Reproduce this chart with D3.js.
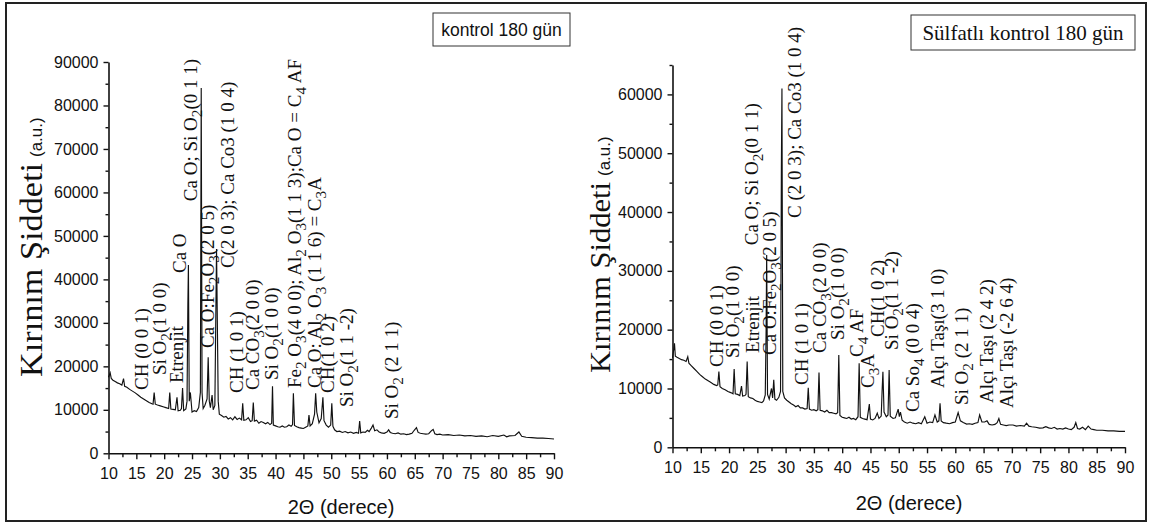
<!DOCTYPE html>
<html><head><meta charset="utf-8">
<script src="https://cdn.jsdelivr.net/npm/d3@7"></script>
<style>body{margin:0;background:#fff}</style>
</head><body>
<svg id="chart" width="1152" height="524" xmlns="http://www.w3.org/2000/svg"></svg>
<script>
// ---------- DATA ----------
const leftTheta = [10.0,10.3,10.5,10.8,11.2,11.6,12.0,12.4,12.7,12.9,13.3,13.8,14.3,14.8,15.3,15.8,16.3,16.8,17.3,17.8,18.0,18.2,18.4,18.8,19.3,19.8,20.3,20.8,21.0,21.2,21.6,22.0,22.3,22.5,22.9,23.1,23.3,23.5,23.9,24.1,24.25,24.35,24.5,24.7,25.0,25.4,25.8,26.2,26.5,26.65,26.8,27.0,27.3,27.7,27.9,28.1,28.3,28.6,28.8,29.1,29.4,29.7,29.9,30.3,30.7,31.1,31.5,31.9,32.3,32.7,33.1,33.5,33.9,34.1,34.3,34.7,35.1,35.5,35.8,36.0,36.2,36.6,37.0,37.4,37.8,38.2,38.6,39.0,39.3,39.45,39.6,40.0,40.4,40.8,41.2,41.6,42.0,42.4,42.8,43.05,43.2,43.4,43.8,44.2,44.6,45.0,45.4,45.8,46.0,46.2,46.6,47.0,47.2,47.4,47.8,48.2,48.5,48.7,49.1,49.5,49.9,50.1,50.3,50.6,51.0,51.5,52.0,52.5,53.0,53.5,54.0,54.5,54.9,55.1,55.3,55.7,56.1,56.5,56.8,57.2,57.5,57.8,58.2,58.6,59.0,59.5,60.0,60.3,60.6,61.0,61.5,62.0,62.5,63.0,63.5,64.0,64.5,64.9,65.3,65.6,66.0,66.5,67.0,67.5,68.0,68.3,68.6,69.0,69.5,70.0,71,72,73,74,75,76,77,78,79,80,81,81.5,82,83,83.7,84.2,85,86,87,88,89,90];
const leftIntensity = [17500,18500,17200,16800,16500,16200,16000,15700,17200,15400,15200,14700,14300,13900,13400,12900,12500,12100,11700,11400,11300,14000,11300,11100,10900,10700,10500,10300,14000,10200,10100,10000,12900,9800,9900,10300,15000,9800,10200,12000,34000,43300,12000,14000,9500,9800,9600,10500,14000,84000,14000,10300,11000,12500,22100,12000,10500,13400,10000,11000,47000,12000,9000,8700,8300,8500,7900,8200,7700,8400,7800,8100,7700,11500,7600,7700,8200,7300,7500,11700,7400,7600,6900,7300,7100,6800,7100,6600,6900,15400,6500,6300,6100,6000,6300,6000,6100,6500,6200,6600,13800,6400,6100,5900,5800,5700,6000,6300,8800,6300,6800,9000,13800,9500,7000,8000,12900,7500,6500,6000,6500,11500,6200,5400,5000,5100,4800,5000,4700,4900,4600,4800,4600,7400,4700,4900,4800,5300,5000,5800,6500,5200,5400,4900,4700,4600,4900,5400,4800,4600,4500,4700,4400,4500,4300,4400,4600,5300,5900,4800,4600,4500,4400,4500,5200,5500,4500,4300,4400,4200,4300,4100,4200,4000,4100,3900,4000,3800,4100,3900,4200,3800,4000,4100,4900,3900,3700,3600,3500,3500,3400,3300];

const rightTheta = [10.0,10.2,10.35,10.5,10.8,11.2,11.6,12.0,12.4,12.7,12.9,13.3,13.8,14.3,14.8,15.3,15.8,16.3,16.8,17.3,17.8,18.0,18.2,18.4,18.8,19.3,19.8,20.3,20.7,20.9,21.1,21.5,21.9,22.2,22.4,22.8,23.0,23.2,23.4,23.8,24.2,24.6,25.0,25.4,25.8,26.1,26.4,26.55,26.65,26.8,27.1,27.5,27.7,27.9,28.1,28.4,28.8,29.1,29.25,29.35,29.5,29.8,30.2,30.6,31.0,31.4,31.8,32.2,32.6,33.0,33.4,33.8,34.0,34.2,34.6,35.0,35.4,35.7,35.9,36.1,36.5,36.9,37.3,37.7,38.1,38.5,38.9,39.2,39.4,39.6,40.0,40.4,40.8,41.2,41.6,42.0,42.4,42.8,43.0,43.2,43.6,44.0,44.4,44.8,45.0,45.4,45.8,46.2,46.5,46.9,47.05,47.2,47.4,47.8,48.1,48.3,48.5,49.0,49.4,49.9,50.1,50.3,50.6,51.0,51.5,52.0,52.5,53.0,53.5,54.0,54.6,55.0,55.5,56.0,56.4,56.8,57.1,57.3,57.5,57.9,58.4,59.0,59.5,60.0,60.5,60.9,61.4,62.0,62.5,63.0,63.5,64.0,64.3,64.7,65.2,65.6,66.0,66.5,67.0,67.4,67.7,68.0,68.5,69.0,69.5,70.2,70.8,71.5,72.2,72.6,73.0,73.5,74.2,74.9,75.5,76.0,76.5,77.0,77.5,78.0,78.5,79.0,79.5,80.0,80.5,81.0,81.3,81.6,82.0,82.5,83.0,83.5,84.0,84.5,85,86,87,88,89,90];
const rightIntensity = [15200,16500,17700,15500,15300,15100,14900,14800,14600,15400,14300,13900,13400,12900,12400,12000,11600,11300,11000,10700,10500,10600,12900,10300,10000,9800,9500,9300,9100,13300,9100,9000,8800,10400,8700,8800,9000,14600,8600,8400,8300,8000,7800,7700,7600,7900,8900,20000,32700,9000,8200,10000,8400,11500,8200,8000,8500,9500,47400,61000,9500,8400,8000,7700,7400,7200,6900,7100,6700,6700,6500,6600,10100,6500,6300,6400,6200,6400,12700,6300,6200,6000,6300,5900,5900,5800,5700,5900,15700,5400,5100,5000,4900,5100,4800,4900,4700,5200,14300,5100,4900,4800,4700,7350,4800,4650,4900,5800,4900,5300,9400,12850,6000,5200,5500,13150,5300,4900,5000,6500,5200,6000,4600,4300,4100,4300,4100,4000,4200,4000,5200,4100,4300,4200,5500,4300,4500,7500,4500,4200,4100,4000,4200,4300,5900,4500,4200,3950,4000,3900,4100,4200,5500,4300,4300,4500,3900,3800,3900,4200,4900,3900,3800,3700,3800,3800,3600,3700,3600,4100,3600,3500,3400,3250,3300,3500,3300,3200,3400,3100,3200,3100,3300,3100,3000,3400,4200,3200,3100,3400,3000,3600,3100,3000,2900,2900,2800,2800,2700,2700];

const xTickValues = [10,15,20,25,30,35,40,45,50,55,60,65,70,75,80,85,90];
const leftYTickValues = [0,10000,20000,30000,40000,50000,60000,70000,80000,90000];
const rightYTickValues = [0,10000,20000,30000,40000,50000,60000];

// peak annotations: text ("_x" = subscript x), 2θ and intensity at the start of the text
const leftLabels = [
  ["CH (0 0 1)", 17.1, 14560],
  ["Si O_2(1 0 0)", 20.3, 18000],
  ["Etrenjit", 23.36, 16170],
  ["Ca O", 23.9, 41470],
  ["Ca O; Si O_2(0 1 1)", 25.87, 58000],
  ["Ca O:Fe_2O_3(2 0 5)", 28.9, 24220],
  ["C(2 0 3); Ca Co3 (1 0 4)", 32.5, 42600],
  ["CH (1 0 1)", 34.1, 13870],
  ["Ca CO_3(2 0 0)", 37.0, 14560],
  ["Si O_2(1 0 0)", 40.4, 16860],
  ["Fe_2 O_3(4 0 0); Al_2 O_3(1 1 3);Ca O = C_4 AF", 44.5, 15020],
  ["Ca O: Al_2 O_3 (1 1 6) = C_3A", 48.1, 15020],
  ["CH(1 0 2)", 50.45, 13870],
  ["Si O_2(1 1 -2)", 53.9, 10650],
  ["Si O_2 (2 1 1)", 61.9, 7890]
];
const rightLabels = [
  ["CH (0 0 1)", 18.9, 13660],
  ["Si O_2(1 0 0)", 21.75, 15190],
  ["Etrenjit", 25.28, 16040],
  ["Ca O; Si O_2(0 1 1)", 25.1, 34350],
  ["Ca O:Fe_2O_3(2 0 5)", 28.3, 15700],
  ["C (2 0 3); Ca Co3 (1 0 4)", 32.7, 39000],
  ["CH (1 0 1)", 33.9, 10600],
  ["Ca CO_3(2 0 0)", 37.1, 16040],
  ["Si O_2(1 0 0)", 40.3, 18250],
  ["C_4 AF", 43.65, 15360],
  ["C_3A", 45.6, 10100],
  ["CH(1 0 2)", 47.35, 18760],
  ["Si O_2(1 1 -2)", 49.8, 16550],
  ["Ca So_4 (0 0 4)", 53.5, 6000],
  ["Alçı Taşı(3 1 0)", 57.96, 10100],
  ["Si O_2 (2 1 1)", 62.2, 7190],
  ["Alçı Taşı (2 4 2)", 66.6, 7530],
  ["Alçı Taşı (-2 6 4)", 70.15, 6680]
];
const leftLegend = "kontrol 180 gün";
const rightLegend = "Sülfatlı kontrol 180 gün";
const xTitle = "2Θ (derece)";
const yTitleMain = "Kırınım Şiddeti";
const yTitleUnit = "(a.u.)";

// ---------- DRAW ----------
const svg = d3.select("#chart");
svg.append("rect").attr("width",1152).attr("height",524).attr("fill","#fff");
svg.append("rect").attr("x",6).attr("y",3).attr("width",1140).attr("height",518)
  .attr("fill","none").attr("stroke","#222").attr("stroke-width",2);

const SANS = "Liberation Sans, Arial, sans-serif";
const SERIF = "Liberation Serif, Times New Roman, serif";

function addLabel(t, str, fs) {
  let i = 0;
  const parts = [];
  while (i < str.length) {
    if (str[i] === "_") { parts.push({s: str[i+1], sub: true}); i += 2; }
    else {
      let j = i;
      while (j < str.length && str[j] !== "_") j++;
      parts.push({s: str.slice(i, j), sub: false}); i = j;
    }
  }
  let prevSub = false;
  parts.forEach(p => {
    const ts = t.append("tspan").text(p.s);
    if (p.sub) {
      ts.attr("font-size", fs*0.8).attr("dy", prevSub ? 0 : fs*0.28);
    } else {
      ts.attr("font-size", fs).attr("dy", prevSub ? -fs*0.28 : 0);
    }
    prevSub = p.sub;
  });
}

function panel(cfg) {
  const x = d3.scaleLinear().domain([10, 90]).range([cfg.x0, cfg.x1]);
  const y = d3.scaleLinear().domain([0, cfg.ymax]).range([cfg.y0, cfg.yTop]);
  const g = svg.append("g");

  const pts = cfg.theta.map((t, i) => [t, cfg.inten[i]]);
  g.append("path").datum(pts)
    .attr("d", d3.line().x(d => x(d[0])).y(d => y(d[1])))
    .attr("fill","none").attr("stroke","#111").attr("stroke-width",1.15)
    .attr("stroke-linejoin","miter");

  const xa = g.append("g").attr("transform",`translate(0,${cfg.y0})`)
    .call(d3.axisBottom(x).tickValues(xTickValues).tickSize(6).tickSizeOuter(0).tickPadding(5).tickFormat(d3.format("d")));
  const xMinor = xTickValues.slice(0,-1).map(v => v + 2.5);
  g.append("g").attr("transform",`translate(0,${cfg.y0})`)
    .call(d3.axisBottom(x).tickValues(xMinor).tickSize(4).tickSizeOuter(0).tickFormat(""))
    .select(".domain").remove();

  g.append("g").attr("transform",`translate(${cfg.x0},0)`)
    .call(d3.axisLeft(y).tickValues(cfg.yTicks).tickSize(5).tickSizeOuter(0).tickPadding(5).tickFormat(d3.format("d")));
  const yMinor = d3.range(5000, cfg.ymax + 1, 10000);
  g.append("g").attr("transform",`translate(${cfg.x0},0)`)
    .call(d3.axisLeft(y).tickValues(yMinor).tickSize(3).tickSizeOuter(0).tickFormat(""))
    .select(".domain").remove();

  g.selectAll(".domain").attr("stroke","#111").attr("stroke-width",1.6);
  g.selectAll(".tick line").attr("stroke","#111").attr("stroke-width",1.4);
  g.selectAll(".tick text").attr("font-family",SANS).attr("font-size",cfg.tickFs).attr("fill","#111");
  xa.selectAll(".tick text").attr("dy", "0.9em");

  cfg.labels.forEach(([txt, t, v]) => {
    const tx = g.append("text")
      .attr("transform", `translate(${x(t)},${y(v)}) rotate(-90)`)
      .attr("font-family", SERIF).attr("fill","#111");
    addLabel(tx, txt, cfg.labelFs);
  });

  g.append("text").attr("x", cfg.xTitleX).attr("y", cfg.xTitleY)
    .attr("text-anchor","middle").attr("font-family",SANS).attr("font-size",20).attr("fill","#111")
    .text(xTitle);

  // y title: serif main part + sans unit
  g.append("text")
    .attr("transform",`translate(${cfg.yTitleX},${cfg.yTitleY}) rotate(-90)`)
    .attr("font-family",SERIF).attr("font-size",cfg.yTitleFs).attr("fill","#111")
    .attr("textLength", cfg.yTitleLen).attr("lengthAdjust","spacingAndGlyphs")
    .text(yTitleMain);
  g.append("text")
    .attr("transform",`translate(${cfg.yTitleX},${cfg.yTitleY - cfg.yTitleLen - 6}) rotate(-90)`)
    .attr("font-family",SANS).attr("font-size",17).attr("fill","#111")
    .text(yTitleUnit);

  g.append("rect").attr("x",cfg.leg[0]).attr("y",cfg.leg[1]).attr("width",cfg.leg[2]).attr("height",cfg.leg[3])
    .attr("fill","#fff").attr("stroke","#333").attr("stroke-width",1);
  g.append("text").attr("x",cfg.leg[0]+cfg.leg[2]/2).attr("y",cfg.leg[1]+cfg.leg[3]/2)
    .attr("dy","0.35em").attr("text-anchor","middle")
    .attr("font-family",cfg.legFont).attr("font-size",cfg.legFs).attr("fill","#111").text(cfg.legText);
}

panel({theta:leftTheta, inten:leftIntensity, x0:108.5, x1:554, y0:453.3, yTop:62, ymax:90000,
  yTicks:leftYTickValues, labels:leftLabels, labelFs:19, tickFs:16,
  xTitleX:341, xTitleY:514, yTitleX:42, yTitleY:377, yTitleFs:31, yTitleLen:214,
  leg:[433,13,137,33], legText:leftLegend, legFont:SANS, legFs:17.5});

panel({theta:rightTheta, inten:rightIntensity, x0:672.5, x1:1125, y0:447.3, yTop:65, ymax:65000,
  yTicks:rightYTickValues, labels:rightLabels, labelFs:19, tickFs:16,
  xTitleX:909, xTitleY:510, yTitleX:610, yTitleY:373, yTitleFs:30, yTitleLen:191,
  leg:[911,15,224,35], legText:rightLegend, legFont:SERIF, legFs:21});
</script>
</body></html>
